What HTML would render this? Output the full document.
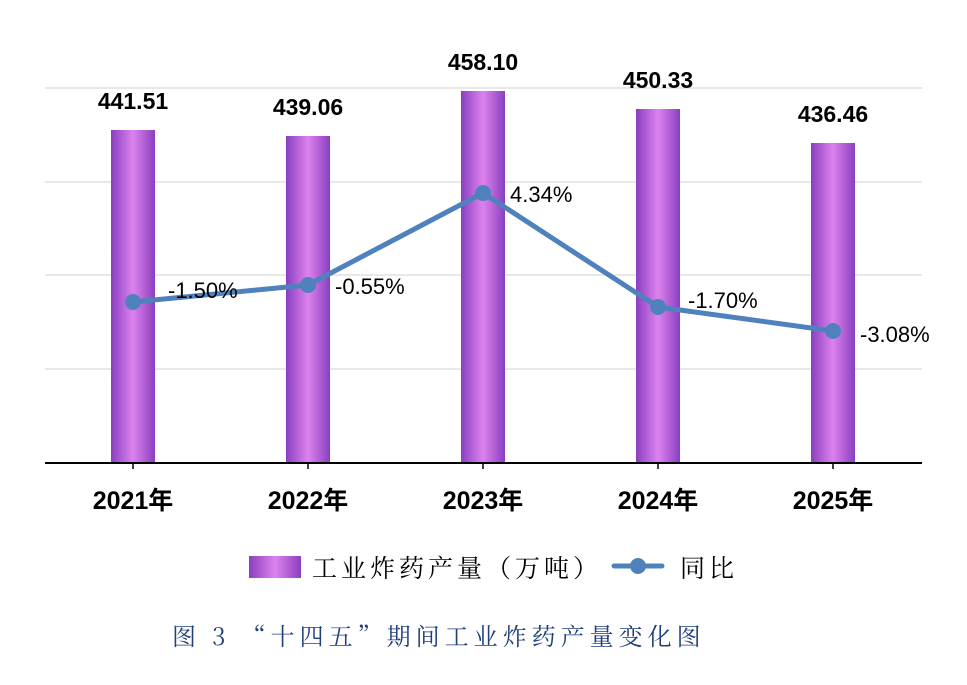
<!DOCTYPE html><html><head><meta charset="utf-8"><style>body{margin:0;background:#fff}</style></head><body>
<svg width="967" height="680" xmlns="http://www.w3.org/2000/svg">
<defs><linearGradient id="g" x1="0" x2="1" y1="0" y2="0"><stop offset="0" stop-color="#8a3fc0"/><stop offset="0.5" stop-color="#dd82ee"/><stop offset="1" stop-color="#8a3fc0"/></linearGradient></defs>
<g stroke="#d9d9d9" stroke-width="1.3">
<line x1="45" x2="922" y1="88" y2="88"/><line x1="45" x2="922" y1="182" y2="182"/><line x1="45" x2="922" y1="275" y2="275"/><line x1="45" x2="922" y1="369" y2="369"/></g>
<g fill="url(#g)">
<rect x="111" y="130" width="44" height="333"/><rect x="286" y="136" width="44" height="327"/><rect x="461" y="91" width="44" height="372"/><rect x="636" y="109" width="44" height="354"/><rect x="811" y="143" width="44" height="320"/></g>
<line x1="45" x2="922" y1="463" y2="463" stroke="#000" stroke-width="2"/>
<g stroke="#000" stroke-width="1.5"><line x1="133" x2="133" y1="463" y2="469"/><line x1="308" x2="308" y1="463" y2="469"/><line x1="483" x2="483" y1="463" y2="469"/><line x1="658" x2="658" y1="463" y2="469"/><line x1="833" x2="833" y1="463" y2="469"/></g>
<polyline points="133,302 308,285 483,193 658,307 833,331" fill="none" stroke="#4f81bd" stroke-width="5" stroke-linejoin="round"/>
<g fill="#4f81bd"><circle cx="133" cy="302" r="8"/><circle cx="308" cy="285" r="8"/><circle cx="483" cy="193" r="8"/><circle cx="658" cy="307" r="8"/><circle cx="833" cy="331" r="8"/></g>
<g font-family="Liberation Sans, sans-serif" font-weight="bold" font-size="23" text-anchor="middle" fill="#000">
<text x="133" y="109">441.51</text><text x="308" y="115">439.06</text><text x="483" y="70">458.10</text><text x="658" y="88">450.33</text><text x="833" y="122">436.46</text></g>
<g font-family="Liberation Sans, sans-serif" font-size="22" fill="#000">
<text x="168" y="298">-1.50%</text><text x="335" y="294">-0.55%</text><text x="510" y="202">4.34%</text><text x="688" y="308">-1.70%</text><text x="860" y="342">-3.08%</text></g>
<g font-family="Liberation Sans, 'Noto Sans CJK SC', sans-serif" font-weight="bold" font-size="25" text-anchor="middle" fill="#000">
<text x="133" y="509">2021年</text><text x="308" y="509">2022年</text><text x="483" y="509">2023年</text><text x="658" y="509">2024年</text><text x="833" y="509">2025年</text></g>
<rect x="249" y="556" width="52" height="22" fill="url(#g)"/>
<text x="312" y="577" font-family="'Noto Serif CJK SC', serif" font-size="25" letter-spacing="4" fill="#000">工业炸药产量（万吨）</text>
<line x1="614" x2="662" y1="566" y2="566" stroke="#4f81bd" stroke-width="5" stroke-linecap="round"/>
<circle cx="638" cy="566" r="8" fill="#4f81bd"/>
<text x="680" y="577" font-family="'Noto Serif CJK SC', serif" font-size="25" letter-spacing="4" fill="#000">同比</text>
<text x="172" y="645" font-family="'Noto Serif CJK SC', serif" font-size="24" letter-spacing="5" fill="#1f3f7a">图 3 “十四五”期间工业炸药产量变化图</text>
</svg></body></html>
